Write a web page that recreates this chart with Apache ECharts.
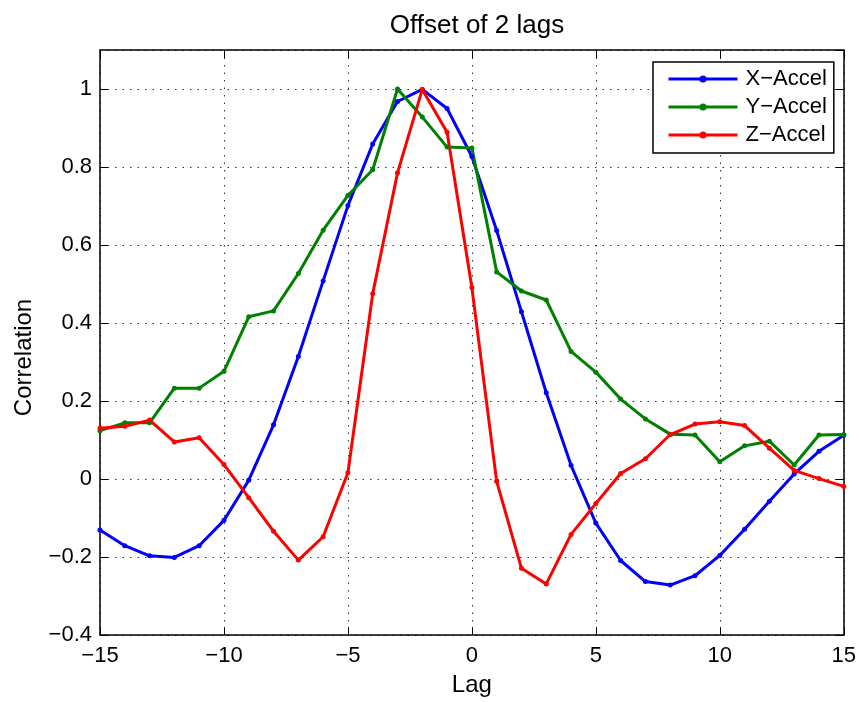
<!DOCTYPE html>
<html>
<head>
<meta charset="utf-8">
<script src="https://cdn.jsdelivr.net/npm/echarts@6/dist/echarts.min.js"></script>
<style>html,body{margin:0;padding:0;background:#fff}#c{width:859px;height:702px}</style>
</head>
<body>
<div id="c"></div>
<script>
const lags = [-15,-14,-13,-12,-11,-10,-9,-8,-7,-6,-5,-4,-3,-2,-1,0,1,2,3,4,5,6,7,8,9,10,11,12,13,14,15];
const xAccel = [-0.131,-0.171,-0.197,-0.201,-0.171,-0.106,-0.003,0.139,0.314,0.508,0.701,0.859,0.968,0.999,0.950,0.827,0.637,0.429,0.221,0.035,-0.113,-0.209,-0.263,-0.272,-0.248,-0.196,-0.129,-0.057,0.013,0.071,0.112];
const yAccel = [0.124,0.144,0.144,0.233,0.233,0.276,0.416,0.431,0.527,0.638,0.727,0.793,1.0,0.928,0.851,0.849,0.531,0.482,0.459,0.327,0.274,0.205,0.154,0.115,0.113,0.044,0.085,0.097,0.036,0.113,0.114];
const zAccel = [0.130,0.135,0.151,0.095,0.106,0.037,-0.048,-0.134,-0.208,-0.148,0.016,0.475,0.785,0.999,0.889,0.491,-0.006,-0.229,-0.269,-0.142,-0.063,0.014,0.052,0.114,0.141,0.147,0.137,0.079,0.022,0.001,-0.019];
const seriesNames = ['X\u2212Accel','Y\u2212Accel','Z\u2212Accel'];
const seriesColors = ['#0000ff','#008000','#ff0000'];
const titleText = 'Offset of 2 lags';
const xName = 'Lag';
const yName = 'Correlation';

const FONT = '"Liberation Sans", Arial, Helvetica, sans-serif';
const fmt = v => {
  const r = Math.round(v * 10) / 10;
  if (r === 0) return '0';
  return String(r).replace('-', '\u2212');
};
const zip = arr => lags.map((l, i) => [l, arr[i]]);
const gridDots = {show: true, lineStyle: {color: '#333', type: [1.5, 6], width: 1}};
const chart = echarts.init(document.getElementById('c'), null, {renderer: 'canvas'});
chart.setOption({
  animation: false,
  backgroundColor: '#fff',
  title: {
    text: titleText, left: 472, top: 8, textAlign: 'center',
    textStyle: {fontFamily: FONT, fontSize: 26, fontWeight: 'normal', color: '#000'}
  },
  legend: {
    orient: 'vertical', left: 653, top: 62,
    backgroundColor: '#fff', borderColor: '#000', borderWidth: 1.5,
    padding: [6, 7, 7, 14],
    itemWidth: 69, itemHeight: 9, itemGap: 6,
    lineStyle: {width: 3},
    textStyle: {fontFamily: FONT, fontSize: 22, lineHeight: 22, color: '#000', padding: [0, 0, 0, 3]},
    data: seriesNames
  },
  grid: {left: 100, right: 14, top: 50, bottom: 64, containLabel: false},
  xAxis: [{
    type: 'value', min: -15, max: 15, interval: 5,
    name: xName, nameLocation: 'middle', nameGap: 38,
    nameTextStyle: {fontFamily: FONT, fontSize: 24, color: '#000'},
    axisLine: {show: true, onZero: false, lineStyle: {color: '#000', width: 1.5}},
    axisTick: {show: true, inside: true, length: 8, lineStyle: {color: '#000'}},
    axisLabel: {fontFamily: FONT, fontSize: 22, color: '#000', margin: 10, formatter: fmt},
    splitLine: gridDots
  }, {
    type: 'value', min: -15, max: 15, interval: 5, position: 'top',
    axisLine: {show: true, onZero: false, lineStyle: {color: '#000', width: 1.5}},
    axisTick: {show: true, inside: true, length: 8, lineStyle: {color: '#000'}},
    axisLabel: {show: false}, splitLine: {show: false}
  }],
  yAxis: [{
    type: 'value', min: -0.4, max: 1.1, interval: 0.2,
    name: yName, nameLocation: 'middle', nameGap: 64,
    nameTextStyle: {fontFamily: FONT, fontSize: 24, color: '#000', padding: [0, 30, 0, 0]},
    axisLine: {show: true, onZero: false, lineStyle: {color: '#000', width: 1.5}},
    axisTick: {show: true, inside: true, length: 8, lineStyle: {color: '#000'}},
    axisLabel: {fontFamily: FONT, fontSize: 22, color: '#000', margin: 8, formatter: fmt, showMaxLabel: false},
    splitLine: gridDots
  }, {
    type: 'value', min: -0.4, max: 1.1, interval: 0.2, position: 'right',
    axisLine: {show: true, onZero: false, lineStyle: {color: '#000', width: 1.5}},
    axisTick: {show: true, inside: true, length: 8, lineStyle: {color: '#000'}},
    axisLabel: {show: false}, splitLine: {show: false}
  }],
  series: [xAccel, yAccel, zAccel].map((arr, i) => ({
    name: seriesNames[i], type: 'line', data: zip(arr),
    xAxisIndex: 0, yAxisIndex: 0,
    symbol: 'circle', symbolSize: 5, showSymbol: true,
    color: seriesColors[i],
    lineStyle: {width: 3, color: seriesColors[i]},
    itemStyle: {color: seriesColors[i]},
    emphasis: {disabled: true}
  }))
});
</script>
</body>
</html>
